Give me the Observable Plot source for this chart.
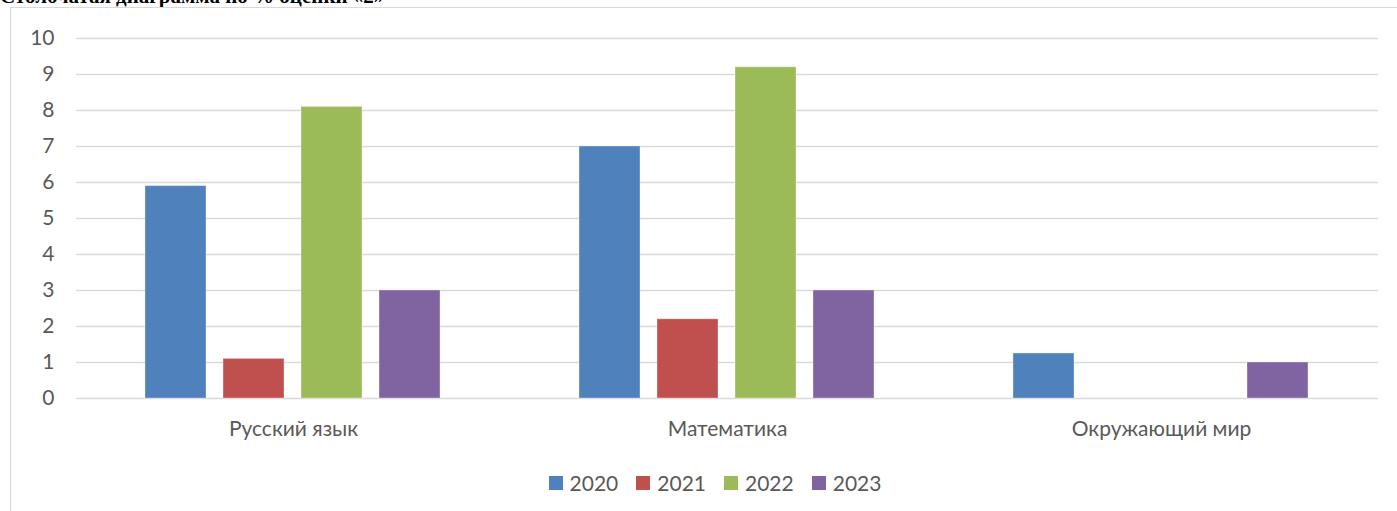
<!DOCTYPE html>
<html>
<head>
<meta charset="utf-8">
<script src="https://cdn.jsdelivr.net/npm/d3@7"></script>
<script src="https://cdn.jsdelivr.net/npm/@observablehq/plot@0.6"></script>
<style>
  html, body { margin: 0; padding: 0; background: #fff; overflow: hidden; width: 1397px; height: 511px; }
  #title { position: absolute; left: 0; top: -14px; font: bold 21px "Liberation Serif", serif; line-height: 20px; white-space: nowrap; color: #000; }
  #frame { position: absolute; left: 10px; top: 7px; width: 1400px; height: 520px; border: 1px solid #d9d9d9; box-sizing: border-box; background: #fff; }
  #chart { position: absolute; left: 1px; top: 1px; }
  #legend { position: absolute; left: 20px; top: 458px; width: 1386px; display: flex; justify-content: center; }
  #legend svg { margin-right: 7px !important; }
</style>
</head>
<body>
<div id="title">Столбчатая диаграмма по % оценки «2»</div>
<div id="frame">
  <div id="chart"></div>
  <div id="legend"></div>
</div>
<script>
const subjects = ["Русский язык", "Математика", "Окружающий мир"];
const years = ["2020", "2021", "2022", "2023"];
const colors = ["#4f81bd", "#c0504d", "#9bbb59", "#8064a2"];
const v2020 = [5.9, 7.0, 1.25];
const v2021 = [1.1, 2.2, 0];
const v2022 = [8.1, 9.2, 0];
const v2023 = [3.0, 3.0, 1.0];
const yTicks = [0, 1, 2, 3, 4, 5, 6, 7, 8, 9, 10];

const series = [v2020, v2021, v2022, v2023];
const data = [];
subjects.forEach((s, i) => years.forEach((y, j) => data.push({subject: s, year: y, value: series[j][i]})));

const font = "Lato, 'Open Sans', sans-serif";
const chart = Plot.plot({
  width: 1386,
  height: 445,
  marginLeft: 63,
  marginRight: 20,
  marginTop: 29,
  marginBottom: 56,
  style: {fontFamily: font, fontSize: "21px", color: "#595959", background: "transparent"},
  fx: {domain: subjects, padding: 0, label: null, axis: "bottom", tickSize: 0, tickPadding: 23},
  x: {domain: years, paddingInner: 0.212, paddingOuter: 0.865, axis: null},
  y: {domain: [0, 10], ticks: yTicks, label: null, tickSize: 0, tickPadding: 22},
  color: {domain: years, range: colors},
  marks: [
    Plot.gridY(yTicks, {stroke: "#d9d9d9", strokeOpacity: 1, strokeWidth: 1.5}),
    Plot.barY(data, {fx: "subject", x: "year", y: "value", fill: "year", stroke: "#ffffff", strokeOpacity: 0.35, strokeWidth: 1})
  ]
});
document.getElementById("chart").appendChild(chart);

const legend = Plot.legend({
  color: {domain: years, range: colors, type: "ordinal"},
  swatchSize: 14,
  style: {fontFamily: font, fontSize: "21px", color: "#595959"}
});
document.getElementById("legend").appendChild(legend);
legend.querySelectorAll("span").forEach(s => { s.style.marginRight = "18px"; });
</script>
</body>
</html>
